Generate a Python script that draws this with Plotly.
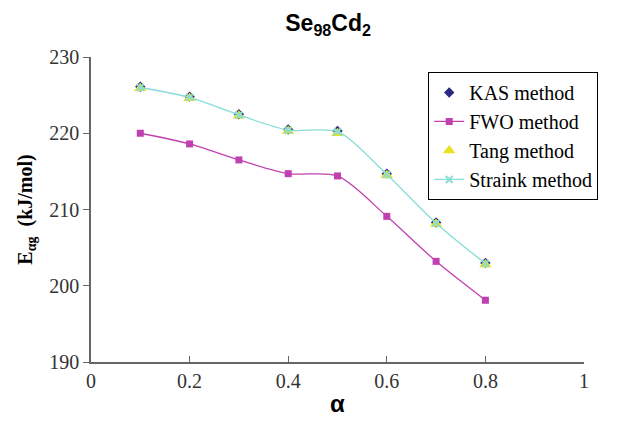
import plotly.graph_objects as go

alpha = [0.1, 0.2, 0.3, 0.4, 0.5, 0.6, 0.7, 0.8]
kas = [226.1, 224.8, 222.5, 220.5, 220.3, 214.7, 208.3, 203.0]
fwo = [220.0, 218.6, 216.5, 214.7, 214.4, 209.1, 203.2, 198.1]
tang = [225.9, 224.6, 222.3, 220.3, 220.0, 214.5, 208.1, 202.8]
straink = [226.0, 224.7, 222.4, 220.4, 220.2, 214.6, 208.2, 202.9]

fig = go.Figure()
fig.add_trace(go.Scatter(x=alpha, y=kas, name="KAS method", mode="markers",
                         marker=dict(symbol="diamond", size=8, color="#2B2A80")))
fig.add_trace(go.Scatter(x=alpha, y=fwo, name="FWO method", mode="lines+markers",
                         line=dict(color="#C040B0", width=1.3, shape="spline", smoothing=0.8),
                         marker=dict(symbol="square", size=7, color="#C040B0")))
fig.add_trace(go.Scatter(x=alpha, y=tang, name="Tang method", mode="markers",
                         marker=dict(symbol="triangle-up", size=11, color="#E8E020")))
fig.add_trace(go.Scatter(x=alpha, y=straink, name="Straink method", mode="lines+markers",
                         line=dict(color="#88DDD8", width=1.3, shape="spline", smoothing=0.8),
                         marker=dict(symbol="x-thin", size=7, color="#88DDD8",
                                     line=dict(width=2, color="#88DDD8"))))

axis_font = dict(family="Liberation Serif", size=20, color="#333333")
fig.update_layout(
    width=625, height=425,
    margin=dict(l=91, r=41, t=57, b=60),
    paper_bgcolor="white", plot_bgcolor="white",
    title=dict(text="<b>Se<sub>98</sub>Cd<sub>2</sub></b>", x=0.525, xanchor="center",
               y=0.945, yanchor="middle",
               font=dict(family="Liberation Sans", size=23, color="black")),
    xaxis=dict(range=[0, 1], dtick=0.2, tick0=0, showgrid=False, zeroline=False,
               showline=True, linecolor="#666666", linewidth=1.5,
               ticks="inside", ticklen=6, tickcolor="#666666",
               tickfont=axis_font,
               title=dict(text="<b>α</b>", standoff=4,
                          font=dict(family="Liberation Sans", size=24, color="black"))),
    yaxis=dict(range=[190, 230], dtick=10, showgrid=False, zeroline=False,
               showline=True, linecolor="#666666", linewidth=1.5,
               ticks="outside", ticklen=6, tickcolor="#666666",
               tickfont=axis_font,
               title=dict(text="<b>E<sub>αg</sub>  (kJ/mol)</b>", standoff=11,
                          font=dict(family="Liberation Serif", size=20, color="black"))),
    legend=dict(x=0.684, y=0.951, xanchor="left", yanchor="top",
                bordercolor="black", borderwidth=1, bgcolor="white",
                font=dict(family="Liberation Serif", size=20, color="black"),
                tracegroupgap=0),
    showlegend=True,
)

fig.write_html("out.html")
